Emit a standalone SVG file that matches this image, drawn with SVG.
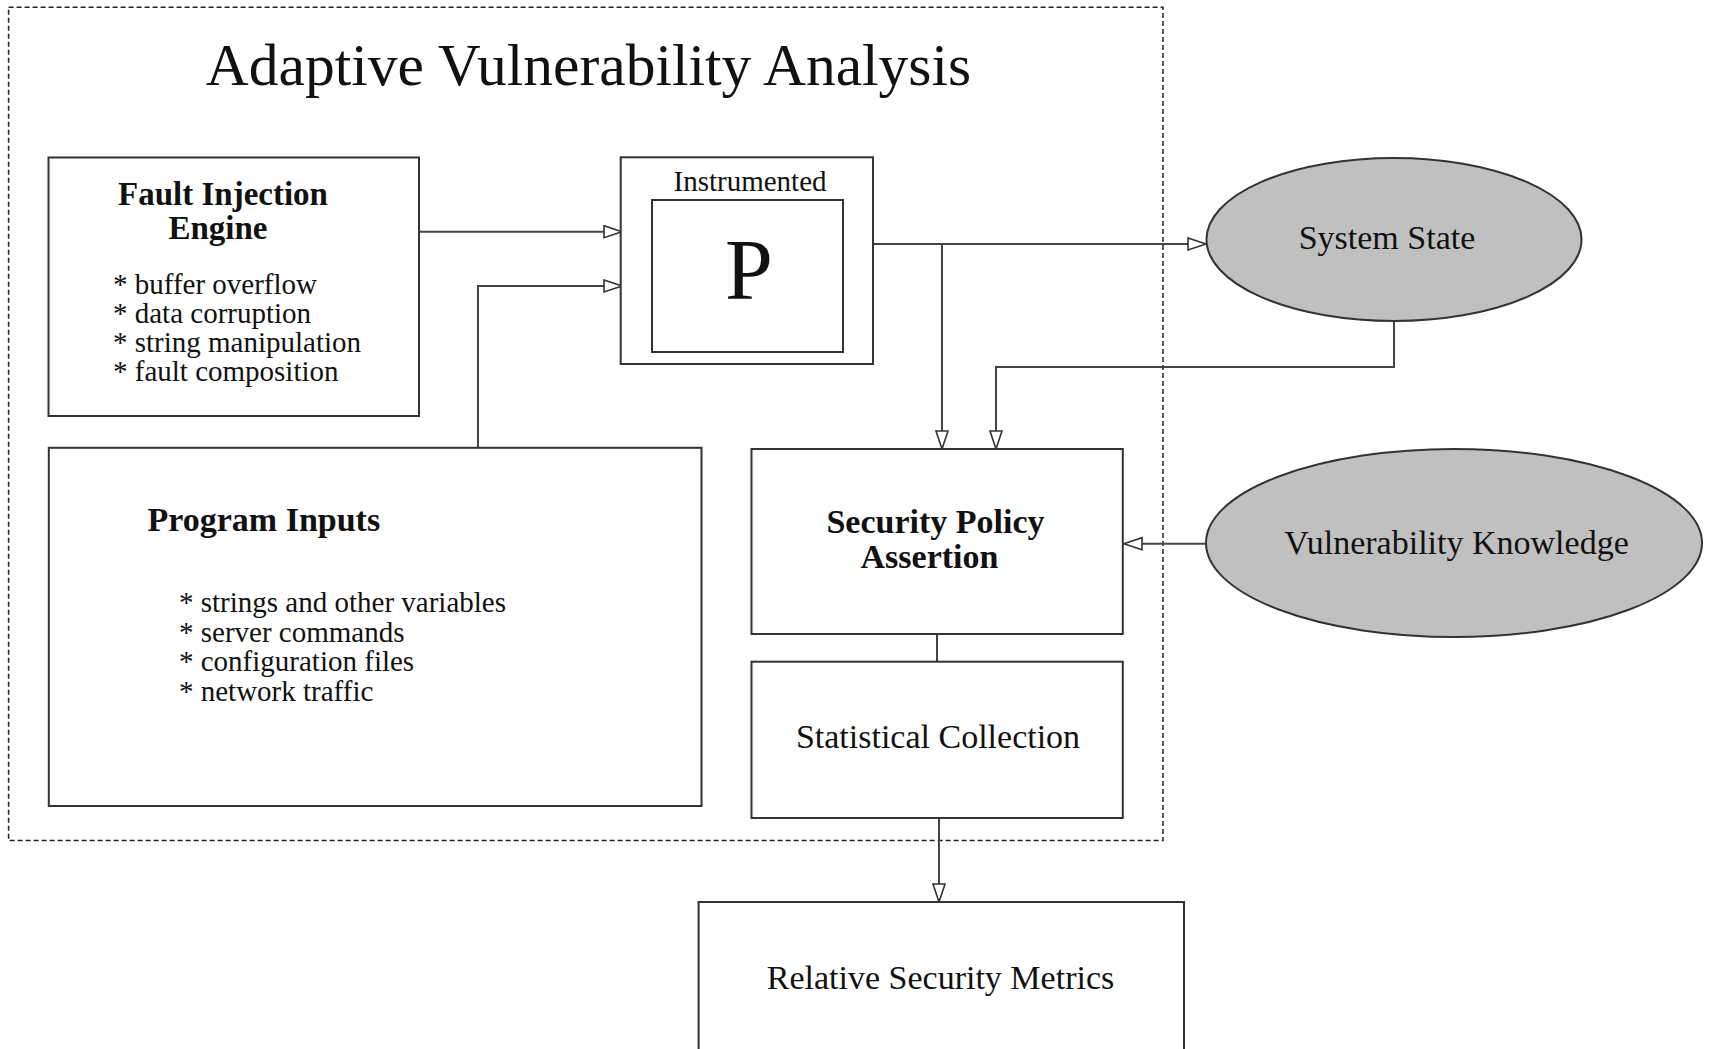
<svg xmlns="http://www.w3.org/2000/svg" width="1709" height="1049" viewBox="0 0 1709 1049">
  <defs>
    <style>
      .box { fill: #ffffff; stroke: #333333; stroke-width: 2; }
      .ell { fill: #c0c0c0; stroke: #333333; stroke-width: 2; }
      .conn { fill: none; stroke: #444444; stroke-width: 2; }
      .frame { fill: none; stroke: #222222; stroke-width: 1.5; stroke-dasharray: 5 3; }
      .t { font-family: "Liberation Serif", "Times New Roman", serif; fill: #111111; }
      .b { font-weight: bold; }
      .s29 { font-size: 29px; }
      .s34 { font-size: 34px; }
      .mid { text-anchor: middle; }
    </style>
    <marker id="arr" markerUnits="userSpaceOnUse" markerWidth="22" markerHeight="16" refX="19" refY="7" orient="auto">
      <path d="M1,1 L19,7 L1,13 Z" fill="#ffffff" stroke="#333333" stroke-width="1.6"/>
    </marker>
  </defs>
  <rect x="0" y="0" width="1709" height="1049" fill="#ffffff"/>

  <g id="frame">
    <rect class="frame" x="8.6" y="7.3" width="1154.4" height="833.3"/>
    <text class="t mid" x="588.5" y="85" font-size="59.5">Adaptive Vulnerability Analysis</text>
  </g>

  <g id="connectors">
    <path class="conn" d="M419,231.7 H622" marker-end="url(#arr)"/>
    <path class="conn" d="M478,448 V286 H622" marker-end="url(#arr)"/>
    <path class="conn" d="M873,244 H1206" marker-end="url(#arr)"/>
    <path class="conn" d="M942,244 V449" marker-end="url(#arr)"/>
    <path class="conn" d="M1394,320 V367 H996 V449" marker-end="url(#arr)"/>
    <path class="conn" d="M1206,543.7 H1124" marker-end="url(#arr)"/>
    <path class="conn" d="M937,634 V662"/>
    <path class="conn" d="M939,818 V902" marker-end="url(#arr)"/>
  </g>

  <g id="fault-injection-engine">
    <rect class="box" x="48.5" y="157.5" width="370.5" height="258.5"/>
    <text class="t b mid" x="223" y="204.5" font-size="33">Fault Injection</text>
    <text class="t b mid" x="218" y="239" font-size="33">Engine</text>
    <text class="t s29" x="113" y="294">* buffer overflow</text>
    <text class="t s29" x="113" y="323">* data corruption</text>
    <text class="t s29" x="113" y="352">* string manipulation</text>
    <text class="t s29" x="113" y="381">* fault composition</text>
  </g>

  <g id="instrumented-program">
    <rect class="box" x="620.7" y="157.3" width="252.3" height="206.7"/>
    <text class="t s29 mid" x="750" y="190.7">Instrumented</text>
    <rect class="box" x="652" y="200" width="191" height="152"/>
    <text class="t mid" x="749" y="299" font-size="86">P</text>
  </g>

  <g id="system-state">
    <ellipse class="ell" cx="1394" cy="239.5" rx="187.5" ry="81.5"/>
    <text class="t s34 mid" x="1387" y="249.3">System State</text>
  </g>

  <g id="program-inputs">
    <rect class="box" x="48.8" y="447.8" width="652.7" height="358.2"/>
    <text class="t b s34" x="147.5" y="530.7">Program Inputs</text>
    <text class="t s29" x="179" y="612.4">* strings and other variables</text>
    <text class="t s29" x="179" y="641.8">* server commands</text>
    <text class="t s29" x="179" y="671.2">* configuration files</text>
    <text class="t s29" x="179" y="700.5">* network traffic</text>
  </g>

  <g id="security-policy-assertion">
    <rect class="box" x="751.5" y="449" width="371.3" height="185"/>
    <text class="t b s34 mid" x="935.5" y="532.6">Security Policy</text>
    <text class="t b s34 mid" x="929.5" y="568">Assertion</text>
  </g>

  <g id="vulnerability-knowledge">
    <ellipse class="ell" cx="1454" cy="543" rx="248" ry="94"/>
    <text class="t s34 mid" x="1456.5" y="554">Vulnerability Knowledge</text>
  </g>

  <g id="statistical-collection">
    <rect class="box" x="751.5" y="661.7" width="371.3" height="156.3"/>
    <text class="t s34 mid" x="938" y="747.8">Statistical Collection</text>
  </g>

  <g id="relative-security-metrics">
    <rect class="box" x="698.6" y="902" width="485.4" height="200"/>
    <text class="t s34 mid" x="940.5" y="988.6">Relative Security Metrics</text>
  </g>
</svg>
